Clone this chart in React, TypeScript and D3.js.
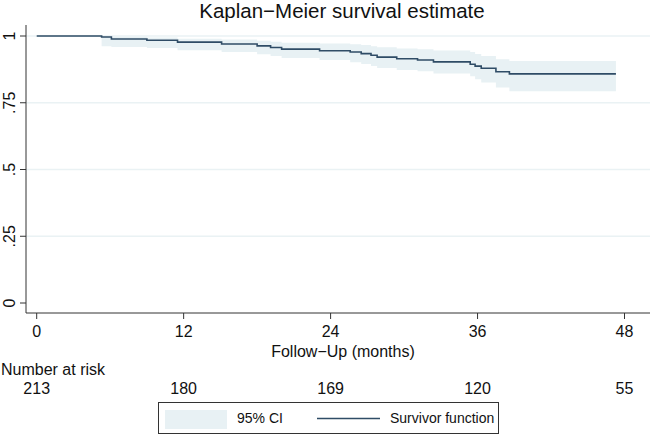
import React from "react";
import * as d3 from "d3";

const times = [0, 5.3, 6.1, 9.0, 11.5, 15.1, 18.0, 19.1, 20.0, 23.1, 25.6, 26.5, 27.3, 27.8, 29.4, 31.1, 32.4, 35.4, 35.8, 36.3, 37.5, 38.6, 47.3];
const survival = [1.0, 0.996, 0.989, 0.984, 0.977, 0.970, 0.963, 0.957, 0.951, 0.945, 0.940, 0.934, 0.928, 0.921, 0.915, 0.910, 0.903, 0.894, 0.887, 0.879, 0.866, 0.858, 0.858];
const ciLower = [NaN, 0.962, 0.959, 0.955, 0.947, 0.940, 0.932, 0.925, 0.918, 0.910, 0.902, 0.895, 0.888, 0.880, 0.873, 0.868, 0.860, 0.849, 0.838, 0.826, 0.807, 0.793, 0.793];
const ciUpper = [NaN, 1.0, 0.997, 0.994, 0.990, 0.987, 0.982, 0.978, 0.975, 0.972, 0.969, 0.966, 0.962, 0.958, 0.953, 0.950, 0.946, 0.940, 0.933, 0.925, 0.913, 0.906, 0.906];

const xTicks = [0, 12, 24, 36, 48];
const yTicks = [0, 0.25, 0.5, 0.75, 1];
const yTickLabels = ["0", ".25", ".5", ".75", "1"];
const atRisk = [213, 180, 169, 120, 55];

const FONT = "'Liberation Sans', Arial, Helvetica, sans-serif";
const LINE = "#2f4c66";
const BAND = "#e8f1f4";
const GRID = "#eaf2f4";
const AXIS = "#333333";

export default function App() {
  const W = 650, H = 437;
  const x = d3.scaleLinear().domain([0, 48]).range([36.7, 624.5]);
  const y = d3.scaleLinear().domain([0, 1]).range([303, 36]);
  const axisY = 313;
  const axisX = 26;

  const pts = times.map((t, i) => ({ t, s: survival[i], lo: ciLower[i], hi: ciUpper[i] }));
  const bandPts = pts.filter((p) => !isNaN(p.lo));

  const area = d3
    .area<any>()
    .curve(d3.curveStepAfter)
    .x((d) => x(d.t))
    .y0((d) => y(d.lo))
    .y1((d) => y(d.hi));
  const line = d3
    .line<any>()
    .curve(d3.curveStepAfter)
    .x((d) => x(d.t))
    .y((d) => y(d.s));

  return (
    <svg
      width={W}
      height={H}
      style={{ position: "absolute", left: 0, top: 0, background: "#fff" }}
      fontFamily={FONT}
    >
      <rect x={0} y={0} width={W} height={H} fill="#fff" />
      <text x={342} y={18} fontSize={20.5} textAnchor="middle" fill="#111">
        Kaplan−Meier survival estimate
      </text>
      {/* gridlines */}
      {yTicks
        .filter((v) => v > 0)
        .map((v) => (
          <line key={"g" + v} x1={axisX} x2={W} y1={y(v)} y2={y(v)} stroke={GRID} strokeWidth={1.5} />
        ))}
      {/* CI band */}
      <path d={area(bandPts) || ""} fill={BAND} stroke="none" />
      {/* survivor line */}
      <path d={line(pts) || ""} fill="none" stroke={LINE} strokeWidth={1.6} />
      {/* y axis */}
      <line x1={axisX} x2={axisX} y1={25} y2={axisY} stroke={AXIS} strokeWidth={1} />
      {yTicks.map((v, i) => (
        <g key={"y" + v}>
          <line x1={axisX - 6} x2={axisX} y1={y(v)} y2={y(v)} stroke={AXIS} strokeWidth={1} />
          <text
            transform={`translate(15,${y(v)}) rotate(-90)`}
            fontSize={16}
            textAnchor="middle"
            fill="#111"
          >
            {yTickLabels[i]}
          </text>
        </g>
      ))}
      {/* x axis */}
      <line x1={axisX} x2={W} y1={axisY} y2={axisY} stroke={AXIS} strokeWidth={1} />
      {xTicks.map((v) => (
        <g key={"x" + v}>
          <line x1={x(v)} x2={x(v)} y1={axisY} y2={axisY + 6} stroke={AXIS} strokeWidth={1} />
          <text x={x(v)} y={337} fontSize={16} textAnchor="middle" fill="#111">
            {v}
          </text>
        </g>
      ))}
      <text x={343} y={357} fontSize={16} textAnchor="middle" fill="#111">
        Follow−Up (months)
      </text>
      <text x={1} y={375} fontSize={16} fill="#111">
        Number at risk
      </text>
      {xTicks.map((v, i) => (
        <text key={"r" + v} x={x(v)} y={394} fontSize={16} textAnchor="middle" fill="#111">
          {atRisk[i]}
        </text>
      ))}
      {/* legend */}
      <rect x={158.5} y={402.5} width={340} height={31} fill="#fff" stroke={AXIS} strokeWidth={1} />
      <rect x={165} y={410} width={62} height={19} fill={BAND} />
      <text x={237} y={422.5} fontSize={14} fill="#111">
        95% CI
      </text>
      <line x1={317} x2={380} y1={418.5} y2={418.5} stroke={LINE} strokeWidth={1.6} />
      <text x={390} y={422.5} fontSize={14} fill="#111">
        Survivor function
      </text>
    </svg>
  );
}
